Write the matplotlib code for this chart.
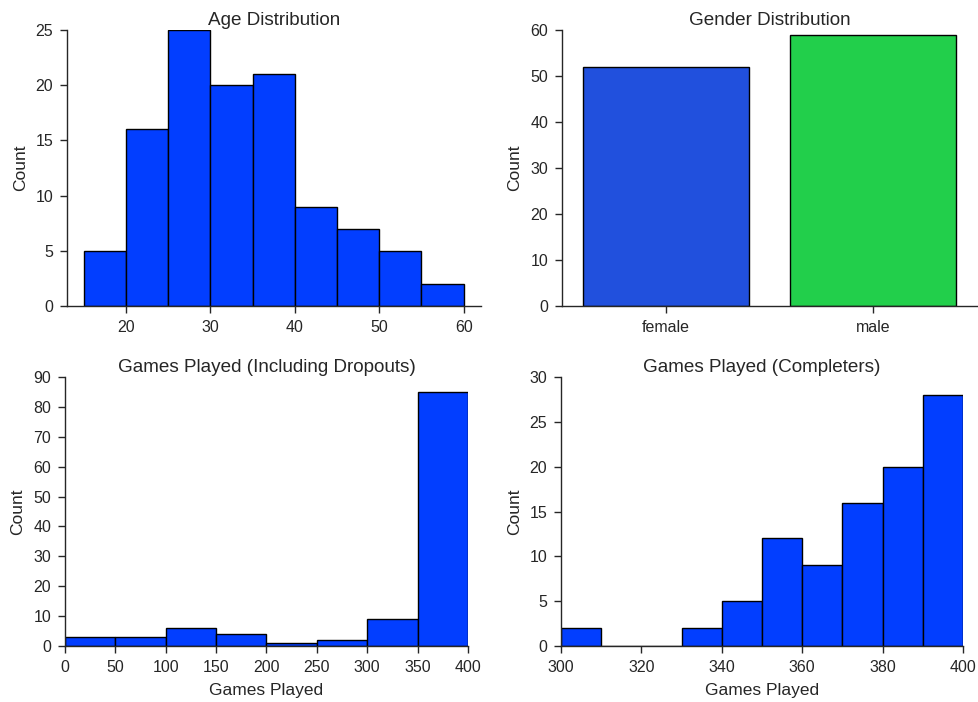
import matplotlib
matplotlib.use("Agg")
import matplotlib.pyplot as plt
import numpy as np

# ---- data ----
age_edges = [15, 20, 25, 30, 35, 40, 45, 50, 55, 60]
age_counts = [5, 16, 25, 20, 21, 9, 7, 5, 2]

gender_labels = ["female", "male"]
gender_counts = [52, 59]
gender_colors = ["#2150dd", "#22cf4b"]

games_all_edges = [0, 50, 100, 150, 200, 250, 300, 350, 400]
games_all_counts = [3, 3, 6, 4, 1, 2, 9, 85]

games_comp_edges = [300, 310, 320, 330, 340, 350, 360, 370, 380, 390, 400]
games_comp_counts = [2, 0, 0, 2, 5, 12, 9, 16, 20, 28]

HIST_COLOR = "#023eff"
TEXT = "#262626"

plt.rcParams.update({
    "font.family": ["Liberation Sans", "DejaVu Sans"],
    "text.color": TEXT,
    "axes.labelcolor": TEXT,
    "xtick.color": TEXT,
    "ytick.color": TEXT,
    "axes.edgecolor": TEXT,
    "axes.linewidth": 1.0,
    "xtick.major.width": 1.0,
    "ytick.major.width": 1.0,
    "xtick.major.size": 5,
    "ytick.major.size": 5,
    "xtick.labelsize": 11.5,
    "ytick.labelsize": 11.5,
    "axes.labelsize": 12.5,
    "axes.titlesize": 13.6,
})

W, H = 979, 702
fig = plt.figure(figsize=(W / 100, H / 100), dpi=100)

def axpos(l, r, t, b):
    return [l / W, (H - b) / H, (r - l) / W, (b - t) / H]

ax1 = fig.add_axes(axpos(67, 481, 30, 306))
ax2 = fig.add_axes(axpos(562, 977, 30, 306))
ax3 = fig.add_axes(axpos(65, 468, 377, 646))
ax4 = fig.add_axes(axpos(561, 963, 377, 646))

def hist(ax, edges, counts):
    ax.hist(edges[:-1], bins=edges, weights=counts, color=HIST_COLOR,
            edgecolor="black", linewidth=1.0)

def style(ax):
    for s in ["top", "right"]:
        ax.spines[s].set_visible(False)
    ax.tick_params(pad=5)

TPAD = 3.5

# Age
hist(ax1, age_edges, age_counts)
ax1.set_xlim(13.0, 62.05)
ax1.set_ylim(0, 25)
ax1.set_xticks([20, 30, 40, 50, 60])
ax1.set_yticks([0, 5, 10, 15, 20, 25])
ax1.set_title("Age Distribution", pad=TPAD)
ax1.set_ylabel("Count", labelpad=5.5)
style(ax1)

# Gender
x = np.arange(len(gender_labels))
ax2.bar(x, gender_counts, width=0.8, color=gender_colors, edgecolor="black", linewidth=1.0)
ax2.set_xlim(-0.5, 1.5)
ax2.set_ylim(0, 60)
ax2.set_xticks(x)
ax2.set_xticklabels(gender_labels)
ax2.set_yticks(range(0, 61, 10))
ax2.set_title("Gender Distribution", pad=TPAD)
ax2.set_ylabel("Count", labelpad=5.5)
style(ax2)

# Games incl dropouts
hist(ax3, games_all_edges, games_all_counts)
ax3.set_xlim(0, 400)
ax3.set_ylim(0, 90)
ax3.set_xticks(range(0, 401, 50))
ax3.set_yticks(range(0, 91, 10))
ax3.set_title("Games Played (Including Dropouts)", pad=TPAD)
ax3.set_ylabel("Count", labelpad=5.5)
ax3.set_xlabel("Games Played", labelpad=6)
style(ax3)

# Completers
hist(ax4, games_comp_edges, games_comp_counts)
ax4.set_xlim(300, 400)
ax4.set_ylim(0, 30)
ax4.set_xticks(range(300, 401, 20))
ax4.set_yticks(range(0, 31, 5))
ax4.set_title("Games Played (Completers)", pad=TPAD)
ax4.set_ylabel("Count", labelpad=5.5)
ax4.set_xlabel("Games Played", labelpad=6)
style(ax4)

fig.savefig("out.png", dpi=100)
